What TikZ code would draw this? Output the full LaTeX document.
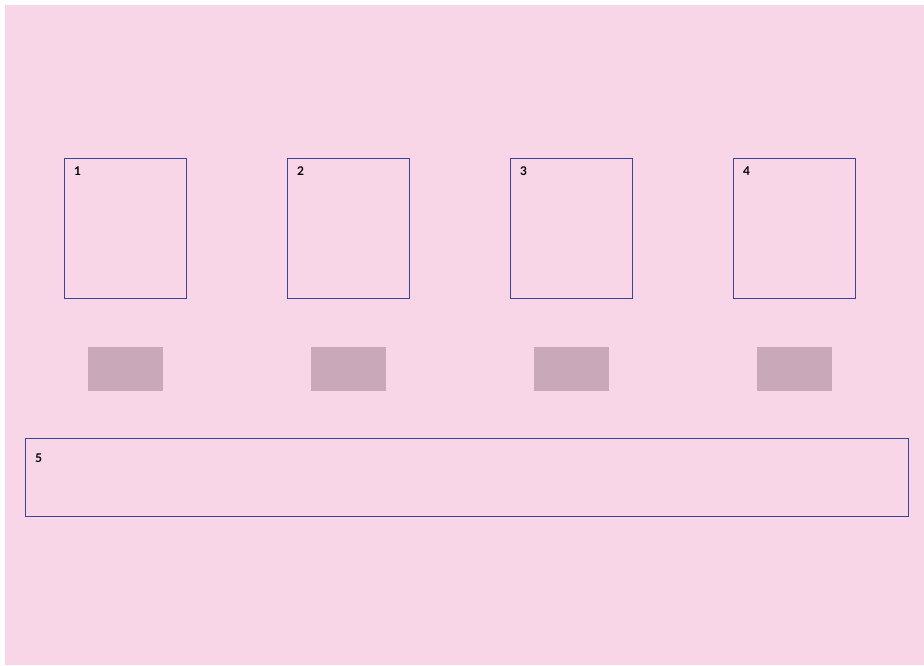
\documentclass[tikz,border=0pt]{standalone}
\usepackage{fontspec}
\setmainfont{Lato}
\definecolor{bgpink}{RGB}{249,213,232}
\definecolor{boxblue}{RGB}{58,68,152}
\definecolor{padgray}{RGB}{201,169,185}
\begin{document}
\begin{tikzpicture}[x=1pt,y=-1pt,
  panel/.style={draw=boxblue,line width=0.9pt},
  pad/.style={fill=padgray},
  lbl/.style={anchor=west,font=\bfseries\fontsize{12}{14}\selectfont,inner sep=0pt}]
\useasboundingbox (0,0) rectangle (924,665);
\fill[bgpink] (5,5) rectangle (924,665);
\foreach \i/\x in {1/64,2/287,3/510,4/733}{
  \draw[panel] (\x,158) rectangle ++(122,140);
  \node[lbl] (l\i) at (\x+10,171.5) {\i};
  \fill[pad] (\x+24,347) rectangle ++(75,44);
}
\draw[panel] (25,438) rectangle (908,516);
\node[lbl] (l5) at (35,458.5) {5};
\end{tikzpicture}
\end{document}
